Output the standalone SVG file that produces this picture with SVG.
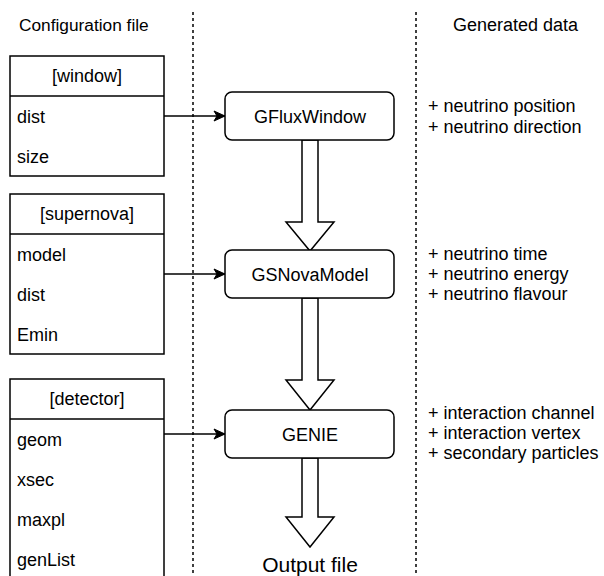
<svg xmlns="http://www.w3.org/2000/svg" width="604" height="576" viewBox="0 0 604 576">
<style>
text{font-family:"Liberation Sans",Arial,Helvetica,sans-serif;font-size:18px;fill:#000}
.c{text-anchor:middle}
.box{fill:#fff;stroke:#000;stroke-width:1.5}
.node{fill:#fff;stroke:#000;stroke-width:1.5}
.sep{stroke:#000;stroke-width:1.5;stroke-dasharray:3 3;fill:none}
.conn{stroke:#000;stroke-width:1.5;fill:none}
.fat{fill:#fff;stroke:#000;stroke-width:1.5;stroke-linejoin:miter}
</style>
<defs>
<marker id="ah" markerUnits="userSpaceOnUse" markerWidth="14" markerHeight="12" viewBox="0 0 14 12" refX="12" refY="6" orient="auto">
<path d="M1,1 L12,6 L1,11 L4,6 Z" fill="#000" stroke="#000" stroke-width="1"/>
</marker>
</defs>
<rect width="604" height="576" fill="#fff"/>
<g id="separators">
<line class="sep" x1="193" y1="12" x2="193" y2="576"/>
<line class="sep" x1="416" y1="12" x2="416" y2="576"/>
</g>
<g id="headings">
<text x="19" y="31" style="font-size:17.3px">Configuration file</text>
<text x="453" y="31">Generated data</text>
</g>
<g id="cfg-window">
<rect class="box" x="10" y="56" width="154" height="120"/>
<line class="box" x1="10" y1="96" x2="164" y2="96"/>
<text class="c" x="87" y="82">[window]</text>
<text x="17" y="122.5">dist</text>
<text x="17" y="162.5">size</text>
</g>
<g id="cfg-supernova">
<rect class="box" x="10" y="194" width="154" height="160"/>
<line class="box" x1="10" y1="234" x2="164" y2="234"/>
<text class="c" x="87" y="220">[supernova]</text>
<text x="17" y="260.5">model</text>
<text x="17" y="300.5">dist</text>
<text x="17" y="340.5">Emin</text>
</g>
<g id="cfg-detector">
<rect class="box" x="10" y="379" width="154" height="230"/>
<line class="box" x1="10" y1="419" x2="164" y2="419"/>
<text class="c" x="87" y="405">[detector]</text>
<text x="17" y="445.5">geom</text>
<text x="17" y="485.5">xsec</text>
<text x="17" y="525.5">maxpl</text>
<text x="17" y="565.5">genList</text>
</g>
<g id="connectors">
<line class="conn" x1="164" y1="116" x2="225" y2="116" marker-end="url(#ah)"/>
<line class="conn" x1="164" y1="274" x2="225" y2="274" marker-end="url(#ah)"/>
<line class="conn" x1="164" y1="434" x2="225" y2="434" marker-end="url(#ah)"/>
<path class="fat" d="M302,140 L318,140 L318,222 L334,222 L310,251 L286,222 L302,222 Z"/>
<path class="fat" d="M302,298 L318,298 L318,380 L334,380 L310,410 L286,380 L302,380 Z"/>
<path class="fat" d="M302,458 L318,458 L318,517 L334,517 L310,547 L286,517 L302,517 Z"/>
</g>
<g id="GFluxWindow">
<rect class="node" x="225" y="92" width="169" height="48" rx="7"/>
<text class="c" x="310" y="122.5">GFluxWindow</text>
</g>
<g id="GSNovaModel">
<rect class="node" x="225" y="250" width="169" height="48" rx="7"/>
<text class="c" x="310" y="280.5">GSNovaModel</text>
</g>
<g id="GENIE">
<rect class="node" x="225" y="410" width="169" height="48" rx="7"/>
<text class="c" x="310" y="440.5">GENIE</text>
</g>
<g id="output">
<text class="c" x="310" y="572" style="font-size:21px">Output file</text>
</g>
<g id="data-window">
<text x="428" y="112">+ neutrino position</text>
<text x="428" y="133">+ neutrino direction</text>
</g>
<g id="data-supernova">
<text x="428" y="260">+ neutrino time</text>
<text x="428" y="280">+ neutrino energy</text>
<text x="428" y="300">+ neutrino flavour</text>
</g>
<g id="data-genie">
<text x="428" y="419">+ interaction channel</text>
<text x="428" y="439">+ interaction vertex</text>
<text x="428" y="459">+ secondary particles</text>
</g>
</svg>
